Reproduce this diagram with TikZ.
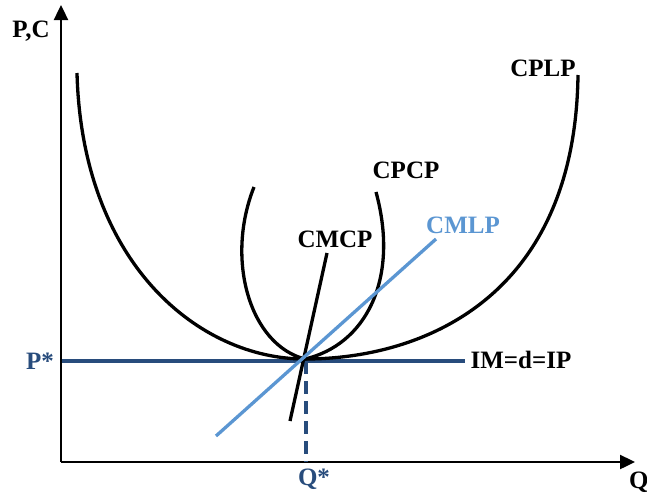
\documentclass[tikz,border=0pt]{standalone}
\usepackage{fontspec}
\setmainfont{Liberation Serif}
\usetikzlibrary{arrows.meta}
\definecolor{dblue}{RGB}{40,76,124}
\definecolor{lblue}{RGB}{91,150,210}
\begin{document}
\begin{tikzpicture}[x=1pt,y=-1pt,
  lbl/.style={font=\fontsize{25}{29}\selectfont\bfseries, inner sep=0pt},
  axis/.style={line width=2.4pt, -{Triangle[length=15pt,width=14pt]}},
  curve/.style={line width=3.3pt, black},
  dline/.style={line width=3.3pt, dblue},
  lline/.style={line width=3.3pt, lblue}]
\useasboundingbox (0,0) rectangle (647,493);
% axes
\coordinate (O) at (61,462);
\coordinate (Ytop) at (61,5);
\coordinate (Xend) at (635,462);
\draw[axis] (O) -- (Ytop);
\draw[axis] (O) -- (Xend);
% key points
\coordinate (E) at (305,359);
\coordinate (Pl) at (62,361);
\coordinate (Pr) at (465,361);
\coordinate (Qt) at (306,361);
\coordinate (Qb) at (306,462);
% price line
\draw[dline] (Pl) -- (Pr);
\draw[dline, dash pattern=on 13pt off 7pt] (Qt) -- (Qb);
% CPLP
\coordinate (L1) at (77,73);
\coordinate (L2) at (578,75);
\draw[curve] (L1) .. controls (82,265) and (200,359) .. (E)
  .. controls (420,359) and (575,300) .. (L2);
% CPCP
\coordinate (S1) at (254,187);
\coordinate (S2) at (376,192);
\draw[curve] (S1) .. controls (225,260) and (250,345) .. (E)
  .. controls (365,345) and (400,280) .. (S2);
% CMCP
\coordinate (M1) at (290,421);
\coordinate (M2) at (327,253);
\draw[curve] (M1) -- (M2);
% CMLP
\coordinate (B1) at (216,436);
\coordinate (B2) at (436,239);
\draw[lline] (B1) -- (B2);
% labels
\node[lbl] (pc) at (31,31) {P,C};
\node[lbl, anchor=west] (q) at (629,482) {Q};
\node[lbl, text=dblue] (ps) at (40,361) {P*};
\node[lbl, text=dblue] (qs) at (314,479) {Q*};
\node[lbl] (im) at (521,360) {IM=d=IP};
\node[lbl] (cplp) at (543,68) {CPLP};
\node[lbl] (cpcp) at (406,170) {CPCP};
\node[lbl] (cmcp) at (335,239) {CMCP};
\node[lbl, text=lblue] (cmlp) at (463,225) {CMLP};
\end{tikzpicture}
\end{document}
